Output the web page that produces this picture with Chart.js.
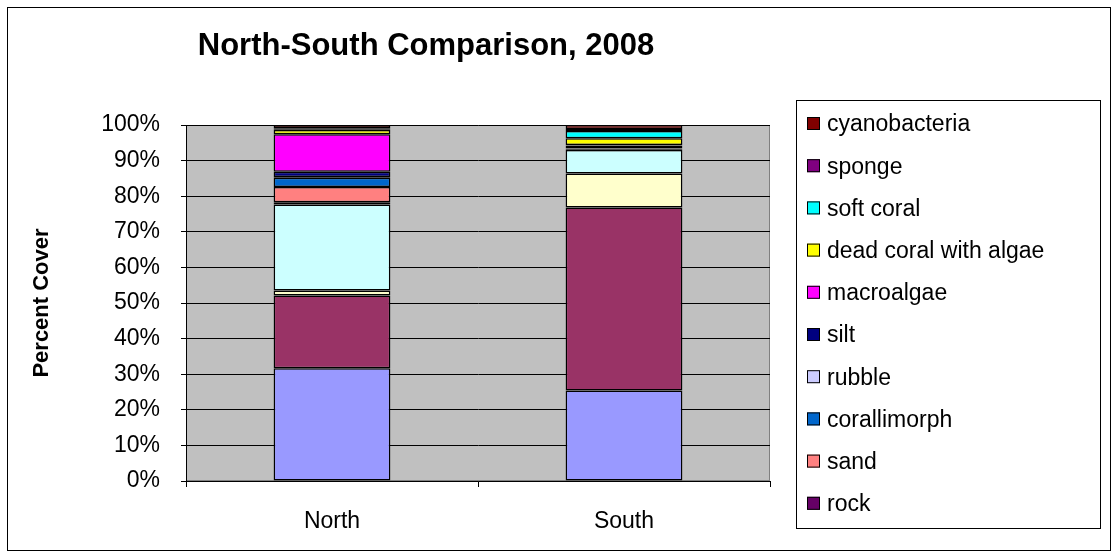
<!DOCTYPE html>
<html lang="en">
<head>
    <meta charset="UTF-8">
    <title>North-South Comparison, 2008</title>
    <script src="https://cdn.jsdelivr.net/npm/chart.js"></script>
    <style>
        body { margin: 0; background: #fff; }
    </style>
</head>
<body>
    <canvas id="coverChart" width="1118" height="558"></canvas>

    <script>
        // sites
        const sites = ['North', 'South'];

        // cover categories, bottom of the stack first (the first four are not in the legend)
        const categories = [
            'hard coral', 'turf algae', 'coralline algae', 'other',
            'rock', 'sand', 'corallimorph', 'rubble', 'silt',
            'macroalgae', 'dead coral with algae', 'soft coral', 'sponge', 'cyanobacteria'
        ];
        const colors = [
            '#9999FF', '#993366', '#FFFFCC', '#CCFFFF',
            '#660066', '#FF8080', '#0066CC', '#CCCCFF', '#000080',
            '#FF00FF', '#FFFF00', '#00FFFF', '#800080', '#800000'
        ];
        const legendFrom = 4;

        // percent cover per category (same order)
        const northCover = [31.7, 20.4, 1.4, 24.2, 0.6, 4.3, 2.6, 0.2, 1.5, 10.5, 1.2, 0.2, 0.3, 0.9];
        const southCover = [25.4, 51.4, 9.6, 6.6, 0.2, 0.1, 0.2, 0.7, 0.1, 0.1, 1.9, 2.0, 0.6, 1.1];

        const yTicks = [0, 10, 20, 30, 40, 50, 60, 70, 80, 90, 100];

        const FONT = "'Liberation Sans', Arial, sans-serif";

        const datasets = categories.map((name, i) => ({
            label: name,
            data: [northCover[i], southCover[i]],
            backgroundColor: colors[i],
            borderColor: '#000',
            borderWidth: 1.5,
            borderSkipped: false,
            barPercentage: 1.0,
            categoryPercentage: 0.4
        }));

        // gray plot area, outer frame, title and boxed legend
        const excelLook = {
            id: 'excelLook',
            beforeDraw(chart) {
                const { ctx, chartArea: a } = chart;
                ctx.save();
                ctx.fillStyle = '#fff';
                ctx.fillRect(0, 0, chart.width, chart.height);
                ctx.fillStyle = '#C0C0C0';
                ctx.fillRect(a.left, a.top, a.right - a.left, a.bottom - a.top);
                ctx.strokeStyle = '#808080';
                ctx.lineWidth = 1;
                ctx.strokeRect(a.left + 0.5, a.top + 0.5, a.right - a.left - 1, a.bottom - a.top - 1);
                ctx.restore();
            },
            afterDraw(chart) {
                const ctx = chart.ctx;
                ctx.save();
                // chart frame
                ctx.strokeStyle = '#000';
                ctx.lineWidth = 1;
                ctx.strokeRect(7.5, 7.5, 1103, 543);

                // title
                ctx.fillStyle = '#000';
                ctx.font = 'bold 31px ' + FONT;
                ctx.textAlign = 'center';
                ctx.textBaseline = 'middle';
                ctx.fillText('North-South Comparison, 2008', 426, 46);

                // legend (top series first)
                const lx = 796, ly = 100, lw = 304, lh = 428;
                ctx.strokeRect(lx + 0.5, ly + 0.5, lw, lh);
                ctx.font = '23px ' + FONT;
                ctx.textAlign = 'left';
                const ds = chart.data.datasets;
                let row = 0;
                for (let i = ds.length - 1; i >= legendFrom; i--) {
                    const y = ly + 24 + row * 42.2;
                    ctx.fillStyle = ds[i].backgroundColor;
                    ctx.fillRect(807, y - 7, 13, 13);
                    ctx.strokeStyle = '#000';
                    ctx.strokeRect(807.5, y - 6.5, 12, 12);
                    ctx.fillStyle = '#000';
                    ctx.fillText(ds[i].label, 827, y + 1);
                    row++;
                }
                ctx.restore();
            }
        };

        new Chart(document.getElementById('coverChart'), {
            type: 'bar',
            data: { labels: sites, datasets: datasets },
            options: {
                responsive: false,
                animation: false,
                layout: { padding: { top: 125, right: 348, left: 0, bottom: 0 } },
                plugins: {
                    legend: { display: false },
                    title: { display: false },
                    tooltip: { enabled: false }
                },
                scales: {
                    x: {
                        stacked: true,
                        afterFit(scale) { scale.height = 77; },
                        grid: { drawOnChartArea: false, offset: true, color: '#000', tickLength: 6 },
                        border: { color: '#000', width: 1 },
                        ticks: { color: '#000', font: { family: FONT, size: 23 }, padding: 21 }
                    },
                    y: {
                        stacked: true,
                        min: 0,
                        max: 100,
                        afterFit(scale) { scale.width = 186; },
                        afterBuildTicks(scale) { scale.ticks = yTicks.map(v => ({ value: v })); },
                        grid: { color: '#000', lineWidth: 1, tickLength: 5 },
                        border: { color: '#000', width: 1 },
                        ticks: {
                            color: '#000',
                            font: { family: FONT, size: 23 },
                            padding: 21,
                            callback: v => v + '%'
                        },
                        title: {
                            display: true,
                            text: 'Percent Cover',
                            color: '#000',
                            font: { family: FONT, size: 22, weight: 'bold' },
                            padding: { top: 29, bottom: 0 }
                        }
                    }
                }
            },
            plugins: [excelLook]
        });
    </script>
</body>
</html>
